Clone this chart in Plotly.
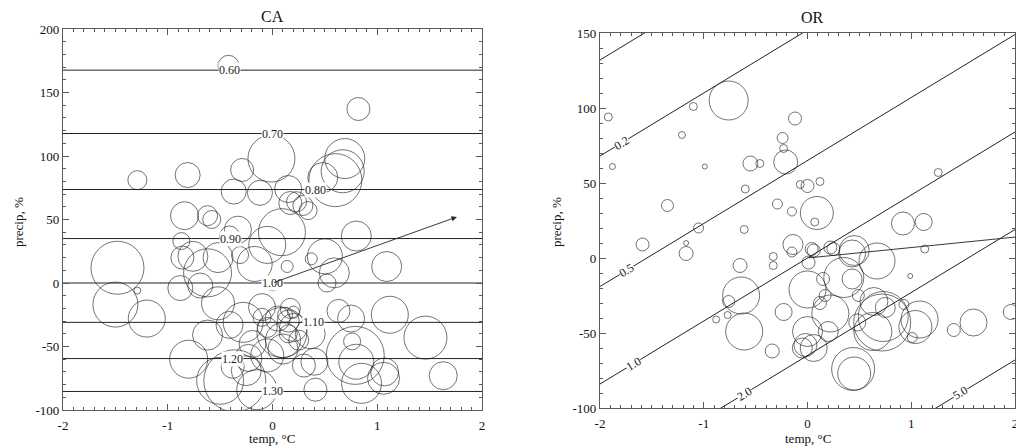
import math
import plotly.graph_objects as go

# ---------------- CA panel data ----------------
ca_temp = [-0.42, 0.82, -1.29, -0.81, -0.29, -0.01, -0.37, -0.12, 0.15, 0.23,
           0.34, 0.48, 0.60, 0.69, 0.67, 0.29, 0.17, -0.84, -0.62, -0.58,
           -0.33, -1.48, -1.50, -1.29, -1.20, -0.86, -0.87, -0.88, -0.62, -0.69,
           -0.52, -0.41, -0.52, -0.31, -0.17, -0.05, 0.09, 0.14, 0.00, 0.80,
           1.09, 0.50, 0.37, 0.59, 0.52, 1.12, 0.63, 0.75, 1.46, 0.79,
           0.76, 0.80, 0.85, 1.06, 1.07, 1.63, 0.41, 0.40, 0.36, 0.09,
           0.10, -0.10, 0.17, -0.41, -0.28, -0.62, -0.80, -0.36, -0.50, -0.25,
           -0.38, -0.23, -0.15, -0.05, -0.19, 0.30, 0.05, 0.15, 0.20, 0.10,
           0.12, -0.05, 0.25, 0.20, -0.10, 0.15, -0.76]
ca_precip = [171, 137, 81, 85, 89, 98, 72, 71, 74, 64,
             57, 83, 81, 98, 88, 61, 63, 53, 53, 50,
             42, 12, -17, -6, -28, 20, 33, -4, 8, -2,
             20, 37, -16, 22, 15, 30, 40, 13, -1, 37,
             13, 21, 19, 8, 0, -25, -22, -28, -43, -57,
             -46, -62, -79, -75, -70, -73, -84, -62, -40, -39,
             -52, -19, -20, -33, -31, -41, -60, -77, -77, -69,
             -66, -59, -84, -57, -48, -65, -28, -30, -35, -45,
             -25, -35, -45, -23, -27, -40, 21]
ca_size = [21, 23, 19, 25, 23, 47, 25, 25, 27, 20,
           18, 30, 53, 40, 43, 20, 23, 28, 20, 18,
           27, 53, 45, 7, 37, 23, 17, 25, 48, 25,
           30, 20, 33, 17, 35, 37, 47, 12, 13, 30,
           30, 35, 12, 30, 18, 37, 23, 27, 43, 58,
           17, 35, 40, 32, 28, 28, 23, 27, 30, 50,
           30, 27, 20, 27, 40, 30, 38, 62, 47, 30,
           23, 27, 40, 33, 27, 23, 25, 22, 28, 35,
           15, 20, 20, 12, 18, 18, 30]

ca_levels = ["0.60", "0.70", "0.80", "0.90", "1.00", "1.10", "1.20", "1.30"]
ca_level_precip = [167.6, 117.7, 73.6, 35.0, 0.0, -31.0, -59.5, -85.4]
ca_label_temp = [-0.41, 0.00, 0.41, -0.40, 0.00, 0.39, -0.38, 0.00]
ca_arrow = (1.76, 52.0)
ca_yticks = [-100, -50, 0, 50, 100, 150, 200]

# ---------------- OR panel data ----------------
or_temp = [-1.92, -1.10, -0.76, -1.21, -1.88, -0.99, -0.55, -0.46, -0.12, -0.24,
           -0.23, -0.21, -0.60, -1.35, -0.29, -0.15, -0.07, 0.00, 0.12, 0.09,
           0.07, 1.26, 0.92, 1.12, -1.59, -1.17, -1.17, -1.05, -0.61, -0.65,
           -0.64, -0.76, -0.88, -0.77, -0.61, -0.34, -0.23, -0.33, -0.33, -0.14,
           -0.15, 0.00, 0.00, -0.05, -0.02, 0.06, 0.01, 0.06, 0.22, 0.35,
           0.45, 0.43, 0.67, 0.43, 0.15, 0.17, 0.12, 0.22, 0.20, 0.49,
           0.48, 0.44, 0.45, 0.64, 0.73, 0.63, 0.72, 0.75, 0.93, 1.08,
           1.04, 1.01, 0.99, 1.13, 1.41, 1.60, 1.96, 0.04, 0.25]
or_precip = [94, 101, 105, 82, 61, 61, 63, 63, 93, 80,
             73, 64, 46, 35, 36, 31, 49, 48, 51, 30,
             24, 57, 23, 24, 9, 3, 10, 20, 19, -5,
             -25, -29, -41, -38, -49, -62, -36, 1, -5, 9,
             4, -21, -49, -60, -58, -60, -3, 5, 7, -13,
             5, 3, -2, -14, -14, -25, -30, -37, -49, -25,
             -43, -74, -77, -29, -39, -49, -43, -33, -31, -41,
             -46, -53, -12, 6, -48, -43, -36, 6, 6]
or_size = [8, 8, 39, 7, 6, 5, 15, 8, 13, 11,
           8, 24, 8, 12, 10, 9, 8, 13, 8, 33,
           8, 8, 23, 17, 13, 14, 5, 10, 8, 14,
           37, 12, 7, 7, 37, 14, 17, 8, 8, 20,
           10, 37, 30, 20, 23, 27, 13, 13, 13, 40,
           30, 27, 36, 20, 13, 12, 13, 37, 20, 12,
           17, 43, 33, 28, 50, 38, 57, 20, 10, 37,
           33, 10, 5, 8, 13, 27, 15, 13, 13]

or_levels = ["0.1", "0.2", "0.5", "1.0", "2.0", "5.0"]
or_intercept = [216.0, 152.0, 65.0, 0.0, -65.0, -152.0]
or_slope = 42.0
or_label_temp = [None, -1.79, -1.74, -1.68, -0.61, 1.47]
or_arrow = (2.08, 14.5)
or_yticks = [-100, -50, 0, 50, 100, 150]

xticks = [-2, -1, 0, 1, 2]

FONT = "Liberation Serif"
INK = "#222222"
FRAME = "#5a5a5a"

# page body has an 8px margin: build figure to fill the remaining window
OFF = 8
W, H = 1024 - OFF, 448 - OFF


def px(v):
    return (v - OFF) / W


def py(v):
    return 1 - (v - OFF) / H


fig = go.Figure()

for lev, yv in zip(ca_levels, ca_level_precip):
    fig.add_trace(go.Scatter(x=[-2, 2], y=[yv, yv], mode="lines",
                             line=dict(color=INK, width=1), hoverinfo="skip",
                             showlegend=False, xaxis="x", yaxis="y"))

for lev, b in zip(or_levels, or_intercept):
    xs = [-2, 2]
    fig.add_trace(go.Scatter(x=xs, y=[b + or_slope * v for v in xs], mode="lines",
                             line=dict(color=INK, width=1), hoverinfo="skip",
                             showlegend=False, xaxis="x2", yaxis="y2"))

fig.add_trace(go.Scatter(x=ca_temp, y=ca_precip, mode="markers",
                         marker=dict(symbol="circle-open", size=ca_size,
                                     color=INK, line=dict(width=0.9, color=INK)),
                         showlegend=False, xaxis="x", yaxis="y"))
fig.add_trace(go.Scatter(x=or_temp, y=or_precip, mode="markers",
                         marker=dict(symbol="circle-open", size=or_size,
                                     color=INK, line=dict(width=0.9, color=INK)),
                         showlegend=False, xaxis="x2", yaxis="y2"))

ann = []
for lev, yv, xv in zip(ca_levels, ca_level_precip, ca_label_temp):
    ann.append(dict(x=xv, y=yv, xref="x", yref="y", text=lev, showarrow=False,
                    font=dict(family=FONT, size=12, color=INK), bgcolor="white",
                    borderpad=0))
ang = math.degrees(math.atan(or_slope * (375 / 250) / (415 / 4)))
for lev, b, xv in zip(or_levels, or_intercept, or_label_temp):
    if xv is None:
        continue
    ann.append(dict(x=xv, y=b + or_slope * xv, xref="x2", yref="y2", text=lev,
                    showarrow=False, textangle=-ang,
                    font=dict(family=FONT, size=12, color=INK), bgcolor="white",
                    borderpad=0))
ann.append(dict(x=ca_arrow[0], y=ca_arrow[1], ax=0, ay=0, xref="x", yref="y",
                axref="x", ayref="y", showarrow=True, arrowhead=2, arrowsize=1.2,
                arrowwidth=0.9, arrowcolor=INK, text=""))
ann.append(dict(x=or_arrow[0], y=or_arrow[1], ax=0, ay=0, xref="x2", yref="y2",
                axref="x2", ayref="y2", showarrow=True, arrowhead=2, arrowsize=1.2,
                arrowwidth=0.9, arrowcolor=INK, text=""))


def label(x, y, text, size, angle=0):
    return dict(x=px(x), y=py(y), xref="paper", yref="paper", text=text,
                showarrow=False, xanchor="center", yanchor="middle",
                textangle=angle, font=dict(family=FONT, size=size, color="#111"))


ann += [label(272, 16, "CA", 16), label(812, 18, "OR", 16),
        label(272, 438, "temp, °C", 13), label(808, 438, "temp, °C", 13),
        label(18, 222, "precip, %", 13, -90), label(556, 222, "precip, %", 13, -90)]


def common(vals):
    return dict(tickvals=vals, ticktext=[str(v) for v in vals],
                ticks="inside", ticklen=6, tickcolor=FRAME, showline=True,
                linecolor=FRAME, linewidth=1.2, mirror="ticks", showgrid=False,
                zeroline=False, automargin=False,
                tickfont=dict(family=FONT, size=13, color="#111"))


def xax(domain, anchor):
    d = common(xticks)
    d.update(domain=domain, anchor=anchor, range=[-2, 2], ticklabelstandoff=3,
             minor=dict(ticks="inside", dtick=0.1, ticklen=3, tickcolor=FRAME,
                        showgrid=False))
    return d


def yax(domain, anchor, rng, vals):
    d = common(vals)
    d.update(domain=domain, anchor=anchor, range=rng,
             minor=dict(ticks="inside", dtick=10, ticklen=3, tickcolor=FRAME,
                        showgrid=False))
    return d


fig.update_layout(
    width=W, height=H,
    margin=dict(l=0, r=0, t=0, b=0, autoexpand=False),
    paper_bgcolor="white", plot_bgcolor="white",
    xaxis=xax([px(63), px(482)], "y"),
    yaxis=yax([py(410), py(29)], "x", [-100, 200], ca_yticks),
    xaxis2=xax([px(600), px(1015)], "y2"),
    yaxis2=yax([py(408), py(33)], "x2", [-100, 150], or_yticks),
    annotations=ann,
    showlegend=False,
)

fig.write_html("out.html")
